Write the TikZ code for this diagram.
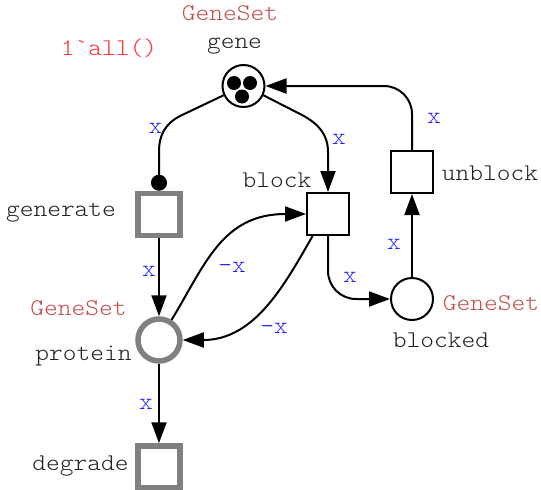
\documentclass[tikz,border=0pt]{standalone}
\usepackage{fontspec}
\usetikzlibrary{arrows.meta}
\definecolor{netgray}{HTML}{808080}
\definecolor{typered}{HTML}{C0504D}
\definecolor{initred}{HTML}{FF3333}
\definecolor{inscblue}{HTML}{2222FF}
\definecolor{namegray}{HTML}{222222}
% typewriter labels, widened to the spacing of the net editor's font
\newcommand{\cpntext}[1]{\scalebox{1.09}[1]{\ttfamily\fontseries{l}\fontsize{24}{28}\selectfont #1}}
\tikzset{
  place/.style={circle, draw, line width=2pt, minimum size=42pt, inner sep=0pt},
  gplace/.style={place, draw=netgray, line width=5.5pt},
  trans/.style={rectangle, draw, line width=2pt, minimum size=42pt, inner sep=0pt},
  gtrans/.style={trans, draw=netgray, line width=5.5pt},
  arc/.style={line width=2pt, -{Triangle[length=21pt,width=15pt]}},
  pname/.style={anchor=base, text=namegray, inner sep=0pt},
  ptype/.style={anchor=base, text=typered, inner sep=0pt},
  pinit/.style={anchor=base, text=initred, inner sep=0pt},
  insc/.style={anchor=base, text=inscblue, inner sep=0pt},
}
\begin{document}
\begin{tikzpicture}[x=1pt,y=-1pt]
\useasboundingbox (0,0) rectangle (541,490);

% places
\node[place]  (gene)    at (243.5,86) {};
\node[gplace] (protein) at (159,340) {};
\node[place]  (blocked) at (412,299) {};

% transitions
\node[gtrans] (generate) at (159,214.5) {};
\node[trans]  (block)    at (328,214) {};
\node[trans]  (unblock)  at (412,172) {};
\node[gtrans] (degrade)  at (159,467) {};

% tokens on gene
\fill (gene) ++(-9.5,-3) circle (7);
\fill (gene) ++(6.5,-3) circle (7);
\fill (gene) ++(-1.5,10.5) circle (7);

% place names, colour sets and initial marking
\node[ptype] (geneT)    at (230,20) {\cpntext{GeneSet}};
\node[pname] (geneN)    at (234.5,48) {\cpntext{gene}};
\node[pinit] (geneI)    at (109,55) {\cpntext{1\textasciigrave all()}};
\node[ptype] (proteinT) at (78.5,315) {\cpntext{GeneSet}};
\node[pname] (proteinN) at (83.5,360) {\cpntext{protein}};
\node[ptype] (blockedT) at (491,310) {\cpntext{GeneSet}};
\node[pname] (blockedN) at (441,347) {\cpntext{blocked}};

% transition names
\node[pname] (generateN) at (61,216) {\cpntext{generate}};
\node[pname] (blockN)    at (277,187) {\cpntext{block}};
\node[pname] (unblockN)  at (490,180) {\cpntext{unblock}};
\node[pname] (degradeN)  at (80.5,470) {\cpntext{degrade}};

% arcs
\draw[line width=2pt, -{Circle[length=16pt]}]
  (gene.205) -- (180,116) .. controls (165,124) and (159,135) .. (159,152) -- (generate.north);
\draw[arc]
  (gene.-25) -- (302,115) .. controls (319,124) and (328,135) .. (328,152) -- (block.north);
\draw[arc, rounded corners=28pt] (unblock.north) |- (gene.east);
\draw[arc] (blocked.north) -- (unblock.south);
\draw[arc, rounded corners=28pt] (block.south) |- (blocked.west);
\draw[arc] (generate.south) -- (protein.north);
\draw[arc] (protein.south) -- (degrade.north);
\draw[arc] (protein.58) .. controls (205,265) and (222,214) .. (block.west);
\draw[arc] (block.-125) .. controls (285,284) and (255,340) .. (protein.east);

% arc inscriptions
\node[insc] (i1) at (155.5,133) {\cpntext{x}};
\node[insc] (i2) at (339,144) {\cpntext{x}};
\node[insc] (i3) at (434,123) {\cpntext{x}};
\node[insc] (i4) at (394,249) {\cpntext{x}};
\node[insc] (i5) at (350,282) {\cpntext{x}};
\node[insc] (i6) at (149,276) {\cpntext{x}};
\node[insc] (i7) at (146,409) {\cpntext{x}};
\node[insc] (i8) at (232,272) {\cpntext{-x}};
\node[insc] (i9) at (274,333) {\cpntext{-x}};
\end{tikzpicture}
\end{document}
